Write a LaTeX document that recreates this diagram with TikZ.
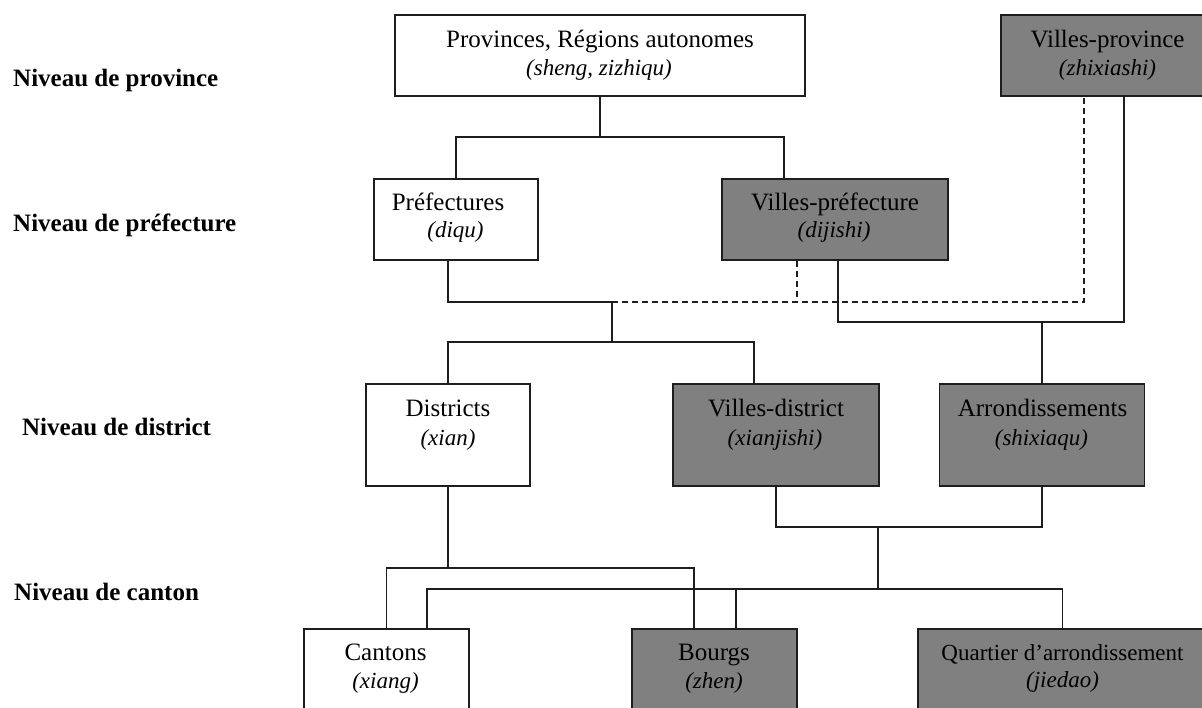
\documentclass[tikz,border=0pt]{standalone}
\usepackage{fontspec}
\setmainfont{Liberation Serif}
\usetikzlibrary{calc}
\definecolor{boxgray}{RGB}{128,128,128}
\definecolor{inkcol}{RGB}{30,30,30}
\begin{document}
\begin{tikzpicture}[x=1pt,y=-1pt,
  whitebox/.style={draw=inkcol,line width=1.4pt,fill=white,rectangle,inner sep=0pt},
  graybox/.style={draw=inkcol,line width=1.4pt,fill=boxgray,rectangle,inner sep=0pt},
  mainline/.style={anchor=base,inner sep=0pt,text=black,font=\fontsize{25}{30}\selectfont},
  subline/.style={anchor=base,inner sep=0pt,text=black,font=\fontsize{23}{28}\selectfont\itshape},
  levellabel/.style={anchor=base west,inner sep=0pt,text=black,font=\fontsize{25}{30}\selectfont\bfseries},
  conn/.style={draw=inkcol,line width=1.3pt},
  dconn/.style={draw=inkcol,line width=1.3pt,dash pattern=on 6pt off 4pt}]
\useasboundingbox (0,0) rectangle (1202,707);
\fill[white] (0,0) rectangle (1202,707);
\clip (0,0) rectangle (1202,707);

% level labels
\node[levellabel] (lprov) at (13,86) {Niveau de province};
\node[levellabel] (lpref) at (13,231) {Niveau de préfecture};
\node[levellabel] (ldist) at (22,435) {Niveau de district};
\node[levellabel] (lcant) at (14,600) {Niveau de canton};

% boxes
\node[whitebox,minimum width=410,minimum height=81] (prov) at (600,55.5) {};
\node[graybox,minimum width=213,minimum height=81] (vprov) at (1107.5,55.5) {};
\node[whitebox,minimum width=164,minimum height=81] (pref) at (456,219.5) {};
\node[graybox,minimum width=226,minimum height=81] (vpref) at (835,219.5) {};
\node[whitebox,minimum width=164,minimum height=102] (dist) at (448,435) {};
\node[graybox,minimum width=206,minimum height=102] (vdist) at (776,435) {};
\node[graybox,minimum width=205,minimum height=102] (arr) at (1042,435) {};
\node[whitebox,minimum width=165,minimum height=102] (cant) at (386.5,680) {};
\node[graybox,minimum width=165,minimum height=102] (bourg) at (714.5,680) {};
\node[graybox,minimum width=289,minimum height=102] (quart) at (1062.5,680) {};

% box texts
\node[mainline] (provt) at (600,47) {Provinces, Régions autonomes};
\node[subline] (provs) at (599,75) {(sheng, zizhiqu)};
\node[mainline] (vprovt) at (1107.5,47) {Villes-province};
\node[subline] (vprovs) at (1107.5,75) {(zhixiashi)};
\node[mainline] (preft) at (448,210) {Préfectures};
\node[subline] (prefs) at (455.5,237) {(diqu)};
\node[mainline] (vpreft) at (835,210) {Villes-préfecture};
\node[subline] (vprefs) at (834,237) {(dijishi)};
\node[mainline] (distt) at (448,416) {Districts};
\node[subline] (dists) at (448,445) {(xian)};
\node[mainline] (vdistt) at (776,416) {Villes-district};
\node[subline] (vdists) at (775,445) {(xianjishi)};
\node[mainline] (arrt) at (1042.5,416) {Arrondissements};
\node[subline] (arrs) at (1041.5,445) {(shixiaqu)};
\node[mainline] (cantt) at (385.5,660) {Cantons};
\node[subline] (cants) at (385.5,688) {(xiang)};
\node[mainline] (bourgt) at (714,660) {Bourgs};
\node[subline] (bourgs) at (714,688) {(zhen)};
\node[mainline,font=\fontsize{23}{28}\selectfont] (quartt) at (1062.5,660) {Quartier d’arrondissement};
\node[subline] (quarts) at (1062.5,687) {(jiedao)};

% junction coordinates
\coordinate (j1) at (600,137);
\coordinate (j2) at (612,302);
\coordinate (j3) at (612,342);
\coordinate (j4) at (1042,322);
\coordinate (j5) at (448,568);
\coordinate (j6) at (878,527);
\coordinate (j7) at (878,589);

% province -> prefecture level
\draw[conn] (prov.south) -- (j1);
\draw[conn] (pref.north) |- (j1) -| ([xshift=-51]vpref.north);

% prefecture -> district level
\draw[conn] ([xshift=-8]pref.south) |- (j2);
\draw[dconn] (j2) -| ([xshift=-23.5]vprov.south);
\draw[dconn] ([xshift=-38]vpref.south) -- ([xshift=-38]vpref.south |- j2);
\draw[conn] (j2) -- (j3);
\draw[conn] (dist.north) |- (j3) -| ([xshift=-22]vdist.north);

% villes-prefecture / villes-province -> arrondissements
\draw[conn] ([xshift=3]vpref.south) |- (j4) -| ([xshift=16.5]vprov.south);
\draw[conn] (j4) -- (arr.north);

% districts -> cantons, bourgs
\draw[conn] (dist.south) -- (j5);
\draw[conn] (cant.north) |- (j5) -| ([xshift=-20.5]bourg.north);

% villes-district, arrondissements -> cantons, bourgs, quartiers
\draw[conn] (vdist.south) |- (j6) -| (arr.south);
\draw[conn] (j6) -- (j7);
\draw[conn] ([xshift=40.5]cant.north) |- (j7) -| (quart.north);
\draw[conn] ([xshift=21.5]bourg.north) -- ([xshift=21.5]bourg.north |- j7);
\end{tikzpicture}
\end{document}
